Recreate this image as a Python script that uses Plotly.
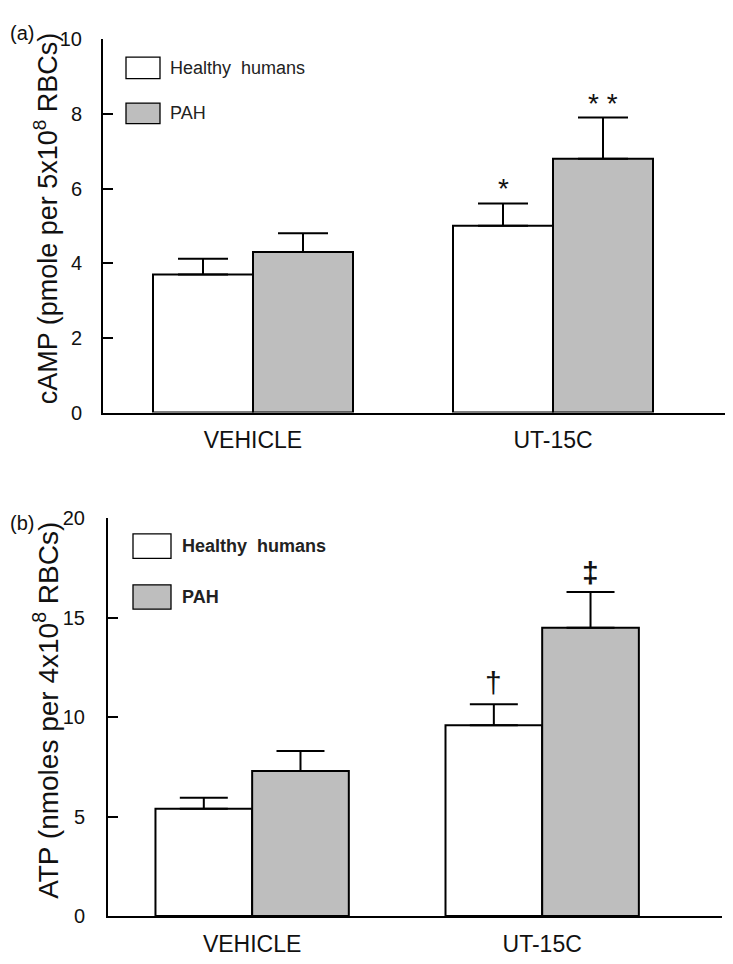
import plotly.graph_objects as go

# ---------------- data ----------------
categories = ["VEHICLE", "UT-15C"]
series_names = ["Healthy humans", "PAH"]

camp_healthy = [3.7, 5.0]
camp_healthy_err = [0.42, 0.6]
camp_pah = [4.3, 6.8]
camp_pah_err = [0.5, 1.1]

atp_healthy = [5.4, 9.6]
atp_healthy_err = [0.55, 1.05]
atp_pah = [7.3, 14.5]
atp_pah_err = [1.0, 1.8]

camp_marks = ["*", "* *"]      # above UT-15C healthy / PAH
atp_marks = ["†", "<b>‡</b>"]   # above UT-15C healthy / PAH

camp_ticks = [0, 2, 4, 6, 8, 10]
atp_ticks = [0, 5, 10, 15, 20]

# ---------------- style ----------------
W, H = 733, 964
FONT = "Liberation Sans, Arial, sans-serif"
FILLS = ["white", "#bebebe"]
LW = 2
xpos = list(range(len(categories)))
BARGAP = 1 / 3
bar_w = (1 - BARGAP) / 2

fig = go.Figure()

panels = [
    dict(xa="x", ya="y", h=camp_healthy, he=camp_healthy_err, p=camp_pah, pe=camp_pah_err,
         marks=camp_marks, capw=25),
    dict(xa="x2", ya="y2", h=atp_healthy, he=atp_healthy_err, p=atp_pah, pe=atp_pah_err,
         marks=atp_marks, capw=24),
]

for pnl in panels:
    for name, vals, errs, fill in [(series_names[0], pnl["h"], pnl["he"], FILLS[0]),
                                   (series_names[1], pnl["p"], pnl["pe"], FILLS[1])]:
        fig.add_trace(go.Bar(
            x=xpos, y=vals, name=name, xaxis=pnl["xa"], yaxis=pnl["ya"],
            marker=dict(color=fill, line=dict(color="black", width=LW)),
            error_y=dict(type="data", symmetric=False, array=errs,
                         arrayminus=[0] * len(errs), color="black",
                         thickness=LW, width=pnl["capw"]),
            showlegend=False,
        ))

# significance marks on the UT-15C bars
for pnl, fs, shift in [(panels[0], 28, [-3, -3]), (panels[1], 30, [3, 1])]:
    i = 1
    tops = [pnl["h"][i] + pnl["he"][i], pnl["p"][i] + pnl["pe"][i]]
    for k, (mark, top) in enumerate(zip(pnl["marks"], tops)):
        fig.add_annotation(
            x=xpos[i] + (k - 0.5) * bar_w, y=top, xref=pnl["xa"], yref=pnl["ya"],
            text=mark, showarrow=False, xanchor="center", yanchor="bottom", yshift=shift[k],
            font=dict(family=FONT, size=fs, color="#111"),
        )

# axes
top_dom_y = [1 - 402.7 / H, 1 - 20.7 / H]
bot_dom_y = [1 - 918 / H, 1 - 511 / H]

axis_common = dict(showline=True, linecolor="black", linewidth=LW, showgrid=False,
                   zeroline=False)

fig.update_layout(
    width=W, height=H, margin=dict(l=0, r=0, t=0, b=0),
    paper_bgcolor="white", plot_bgcolor="white",
    barmode="group", bargap=BARGAP, bargroupgap=0,
    font=dict(family=FONT, color="black"),
    xaxis=dict(domain=[95 / W, 728 / W], range=[-0.5, 1.61], tickvals=xpos,
               ticktext=categories, ticks="", anchor="y",
               tickfont=dict(size=23, color="#111"), ticklabelstandoff=6, **axis_common),
    yaxis=dict(domain=top_dom_y, range=[0, 10], tickvals=camp_ticks, ticks="inside",
               ticklen=10, tickwidth=LW, tickcolor="black", anchor="x",
               tickfont=dict(size=20, color="#111"), ticklabelstandoff=15, **axis_common),
    xaxis2=dict(domain=[100 / W, 714 / W], range=[-0.497, 1.62], tickvals=xpos,
                ticktext=categories, ticks="", anchor="y2",
                tickfont=dict(size=23, color="#111"), ticklabelstandoff=6, **axis_common),
    yaxis2=dict(domain=bot_dom_y, range=[0, 20], tickvals=atp_ticks, ticks="inside",
                ticklen=10, tickwidth=LW, tickcolor="black", anchor="x2",
                tickfont=dict(size=20, color="#111"), ticklabelstandoff=17, **axis_common),
)

# y-axis titles
fig.add_annotation(x=38 / W, y=1 - 204 / H, xref="paper", yref="paper", showarrow=False,
                   xanchor="center", yanchor="middle", textangle=-90,
                   text="cAMP (pmole per 5x10<sup>8</sup> RBCs)",
                   font=dict(family=FONT, size=27, color="#111"))
fig.add_annotation(x=38 / W, y=1 - 708 / H, xref="paper", yref="paper", showarrow=False,
                   xanchor="center", yanchor="middle", textangle=-90,
                   text="ATP (nmoles per 4x10<sup>8</sup> RBCs)",
                   font=dict(family=FONT, size=28, color="#111"))

# panel letters
fig.add_annotation(x=0, y=1 - 14 / H, xref="paper", yref="paper", showarrow=False,
                   xanchor="left", yanchor="middle", text="(a)",
                   font=dict(family=FONT, size=20, color="#111"))
fig.add_annotation(x=0, y=1 - 516 / H, xref="paper", yref="paper", showarrow=False,
                   xanchor="left", yanchor="middle", text="(b)",
                   font=dict(family=FONT, size=20, color="#111"))

# legends (boxes + labels)
legends = [
    dict(x0=118, x1=152, rows=[(39, 61), (86, 107)], tx=160, bold=False, fs=18),
    dict(x0=125, x1=163, rows=[(527, 552), (579, 604)], tx=172, bold=True, fs=18),
]
for lg in legends:
    for (y0, y1), name, fill in zip(lg["rows"], series_names, FILLS):
        fig.add_shape(type="rect", xref="paper", yref="paper",
                      x0=lg["x0"] / W, x1=lg["x1"] / W, y0=1 - y1 / H, y1=1 - y0 / H,
                      fillcolor=fill, line=dict(color="black", width=1.3))
        label = name.replace(" ", "&nbsp; ")
        if lg["bold"]:
            label = "<b>" + label + "</b>"
        fig.add_annotation(x=lg["tx"] / W, y=1 - (y0 + y1) / 2 / H, xref="paper", yref="paper",
                           xanchor="left", yanchor="middle", showarrow=False, text=label,
                           font=dict(family=FONT, size=lg["fs"], color="#222"))

fig.write_html("out.html")
